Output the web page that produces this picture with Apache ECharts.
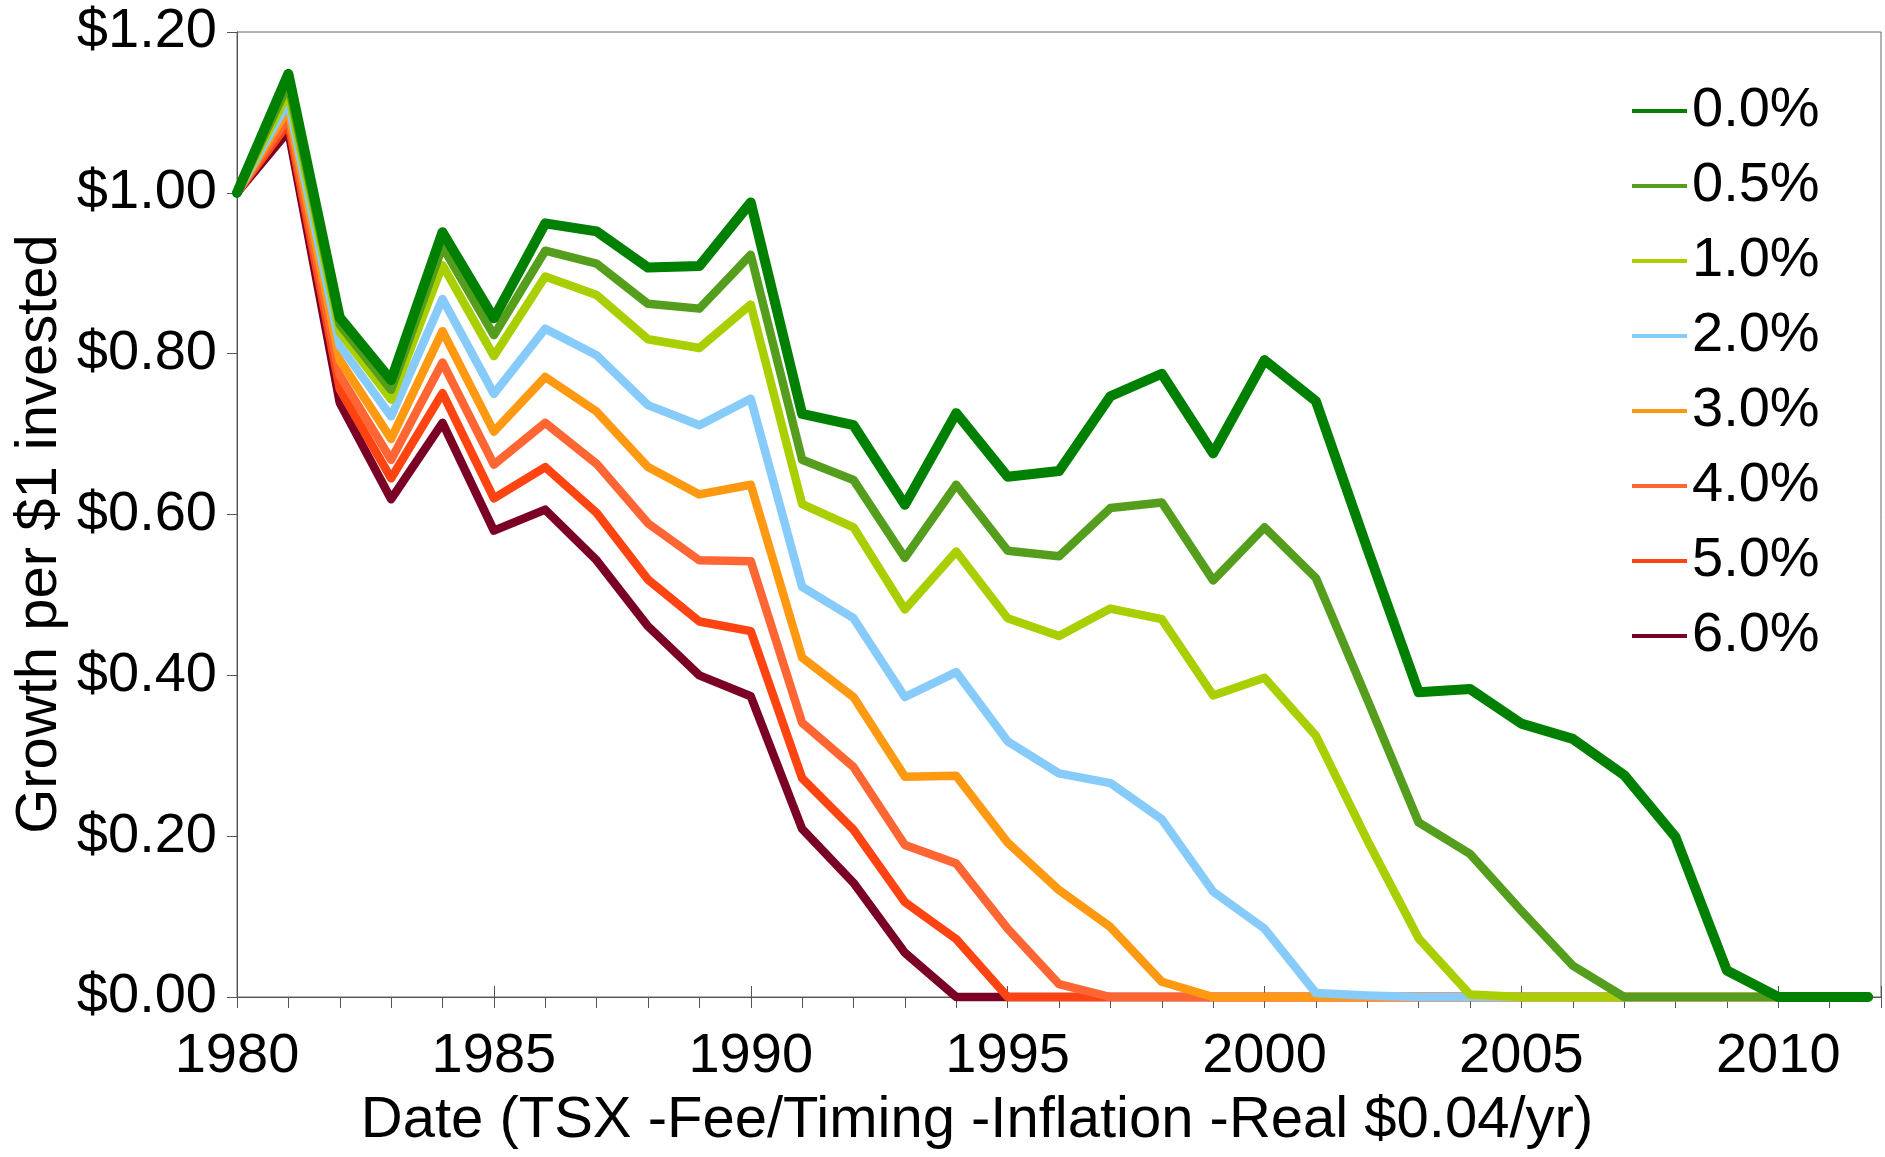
<!DOCTYPE html>
<html><head><meta charset="utf-8">
<script src="https://cdn.jsdelivr.net/npm/echarts@6/dist/echarts.min.js"></script>
<style>html,body{margin:0;padding:0;background:#fff}#c{width:1885px;height:1157px}</style>
</head><body><div id="c"></div>
<script>
// x positions (years); last point is a partial year
const years = [1980,1981,1982,1983,1984,1985,1986,1987,1988,1989,1990,1991,1992,1993,1994,1995,1996,1997,1998,1999,2000,2001,2002,2003,2004,2005,2006,2007,2008,2009,2010,2011,2011.75];

const seriesNames = ['0.0%','0.5%','1.0%','2.0%','3.0%','4.0%','5.0%','6.0%'];
const seriesColors = ['#008000','#559e1d','#a9cf00','#87cbfa','#ff9912','#ff6633','#ff4411','#7a0026'];

const fee00 = [1.00,1.148,0.845,0.767,0.951,0.844,0.962,0.952,0.907,0.909,0.988,0.725,0.711,0.612,0.726,0.647,0.654,0.747,0.775,0.676,0.792,0.741,0.558,0.379,0.383,0.340,0.321,0.276,0.199,0.033,0,0,0];
const fee05 = [1.00,1.135,0.836,0.755,0.933,0.823,0.928,0.912,0.862,0.856,0.923,0.668,0.643,0.546,0.637,0.555,0.548,0.608,0.615,0.518,0.584,0.521,0.370,0.217,0.178,0.107,0.039,0,0,0,0,0,0];
const fee10 = [1.00,1.125,0.827,0.743,0.910,0.797,0.896,0.873,0.818,0.807,0.861,0.613,0.584,0.482,0.554,0.471,0.449,0.483,0.470,0.375,0.397,0.325,0.195,0.073,0.003,0,0,0,0,0,0,0,0];
const fee20 = [1.00,1.114,0.810,0.722,0.868,0.750,0.831,0.798,0.736,0.711,0.744,0.510,0.471,0.373,0.404,0.318,0.278,0.266,0.221,0.131,0.085,0.005,0.002,0,0,0,0,0,0,0,0,0,0];
const fee30 = [1.00,1.105,0.792,0.694,0.828,0.703,0.771,0.728,0.659,0.625,0.637,0.422,0.373,0.274,0.275,0.192,0.133,0.087,0.019,0,0,0,0,0,0,0,0,0,0,0,0,0,0];
const fee40 = [1.00,1.095,0.773,0.668,0.789,0.662,0.714,0.663,0.589,0.543,0.542,0.341,0.286,0.189,0.166,0.085,0.016,0,0,0,0,0,0,0,0,0,0,0,0,0,0,0,0];
const fee50 = [1.00,1.087,0.756,0.645,0.751,0.620,0.659,0.602,0.519,0.467,0.455,0.272,0.208,0.118,0.072,0,0,0,0,0,0,0,0,0,0,0,0,0,0,0,0,0,0];
const fee60 = [1.00,1.077,0.739,0.619,0.714,0.580,0.606,0.543,0.461,0.400,0.374,0.209,0.142,0.055,0,0,0,0,0,0,0,0,0,0,0,0,0,0,0,0,0,0,0];

const allValues = [fee00, fee05, fee10, fee20, fee30, fee40, fee50, fee60];

const FONT = "'Liberation Sans', Arial, sans-serif";
const FS = 56;
const FS_TITLE = 58;

const chart = echarts.init(document.getElementById('c'), null, {renderer: 'canvas'});

const series = seriesNames.map((name, k) => ({
  name: name,
  type: 'line',
  data: years.map((y, i) => [y, allValues[k][i]]),
  showSymbol: false,
  symbol: 'none',
  clip: false,
  z: 20 - k,
  color: seriesColors[k],
  lineStyle: {color: seriesColors[k], width: k === 0 ? 10 : 8.5, cap: 'round', join: 'round'},
  emphasis: {disabled: true}
}));

const gridTop = 32, gridBottom = 160, gridLeft = 237, gridRight = 4;
const gridH = 1157 - gridTop - gridBottom;

chart.setOption({
  animation: false,
  backgroundColor: '#fff',
  textStyle: {fontFamily: FONT},
  grid: {left: gridLeft, top: gridTop, right: gridRight, bottom: gridBottom, show: true, borderColor: '#666', borderWidth: 1, containLabel: false},
  legend: {
    orient: 'vertical', left: 1627, top: 78,
    itemWidth: 55, itemHeight: 4, itemGap: 19,
    icon: 'rect',
    data: seriesNames,
    textStyle: {fontSize: FS, color: '#000', fontFamily: FONT}
  },
  xAxis: [{
    type: 'value', min: 1980, max: 2012, interval: 1,
    axisLine: {show: true, onZero: false, lineStyle: {color: '#555', width: 1}},
    axisTick: {show: true, inside: false, length: 11, lineStyle: {color: '#555'}},
    axisLabel: {fontSize: FS, color: '#000', fontFamily: FONT, margin: 32,
      formatter: v => (Math.round(v) === v && v % 5 === 0) ? String(v) : ''},
    splitLine: {show: false}
  }, {
    type: 'value', min: 1980, max: 2012, interval: 5, position: 'top', offset: -gridH,
    axisLine: {show: false},
    axisTick: {show: true, inside: false, length: 11, lineStyle: {color: '#555'}},
    axisLabel: {show: false},
    splitLine: {show: false}
  }],
  yAxis: {
    type: 'value', min: 0, max: 1.2, interval: 0.2,
    axisLine: {show: true, lineStyle: {color: '#555', width: 1}},
    axisTick: {show: true, length: 10, lineStyle: {color: '#555'}},
    axisLabel: {fontSize: FS, color: '#000', fontFamily: FONT, margin: 20,
      formatter: v => '$' + v.toFixed(2)},
    splitLine: {show: false}
  },
  graphic: [{
    type: 'text', x: 40, y: 534, rotation: Math.PI / 2,
    style: {text: 'Growth per $1 invested', font: FS_TITLE + 'px ' + FONT, fill: '#000', align: 'center', verticalAlign: 'middle'}
  }, {
    type: 'text', x: 977, y: 1121,
    style: {text: 'Date (TSX -Fee/Timing -Inflation -Real $0.04/yr)', font: FS_TITLE + 'px ' + FONT, fill: '#000', align: 'center', verticalAlign: 'middle'}
  }],
  series: series
});
</script>
</body></html>
